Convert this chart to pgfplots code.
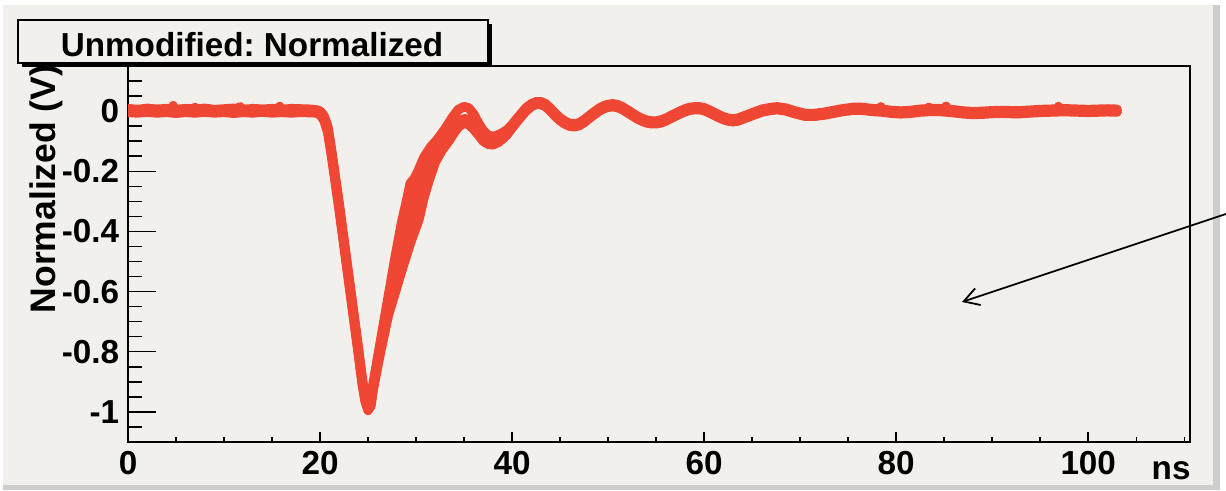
\documentclass[border=0pt]{standalone}
\usepackage{fontspec}
\setmainfont{Liberation Sans}
\usepackage{pgfplots}
\pgfplotsset{compat=1.18}
\usetikzlibrary{arrows.meta}
\frenchspacing

\definecolor{bgcol}{RGB}{242,240,236}
\definecolor{edgecol}{RGB}{205,205,203}
\definecolor{trace}{RGB}{240,70,52}

\newcommand{\lbl}{\fontsize{13.3}{16}\selectfont\bfseries}

\pgfplotsset{
  frame/.style={
    scale only axis,
    width=424.8pt, height=150.4pt,
    at={(51.2pt,19.6pt)}, anchor=south west,
    xmin=0, xmax=110.6, ymin=-1.1, ymax=0.15,
    axis line style={black, line width=0.6pt},
    every tick/.style={black, line width=0.6pt},
    tick align=inside,
    tick label style={font=\lbl},
    /pgf/number format/assume math mode=true,
  },
  wave/.style={trace, line width=3.8pt, line join=round, line cap=round},
}

\begin{document}
\begin{tikzpicture}[x=0.4pt, y=0.4pt]
% canvas
\fill[white] (0,0) rectangle (1226,491);
\fill[edgecol] (3,1) rectangle (1220,486);
\fill[bgcol] (3,6) rectangle (1213,486);

% y ticks and the waveforms
\begin{axis}[frame,
  axis background/.style={fill=bgcol},
  xtick=\empty,
  ytick={-1,-0.8,-0.6,-0.4,-0.2,0},
  minor ytick={-1.05,-0.95,-0.9,-0.85,-0.75,-0.7,-0.65,-0.55,-0.5,-0.45,-0.35,-0.3,-0.25,-0.15,-0.1,-0.05,0.05,0.1},
  ytick pos=left,
  major tick length=11.2pt, minor tick length=5.6pt,
  clip=true,
]
% trace A: early rise, upper first peak
\addplot[wave] coordinates {
(0,0.008) (1,0.005) (2,0.009) (3,0.006) (4,0.008) (5,0.005) (6,0.008) (7,0.006)
(8,0.009) (9,0.005) (10,0.007) (11,0.009) (12,0.005) (13,0.008) (14,0.006)
(15,0.008) (16,0.005) (17,0.008) (18,0.007) (19,0.006) (19.6,0.004)
(20.0,0.0) (20.4,-0.015) (20.8,-0.05) (21.2,-0.13) (21.6,-0.22) (22.0,-0.31)
(22.5,-0.43) (23.0,-0.55) (23.5,-0.67) (24.0,-0.79) (24.4,-0.89) (24.7,-0.95)
(25.0,-0.985) (25.2,-0.98) (25.4,-0.93) (26.0,-0.82) (26.6,-0.71) (27.2,-0.6)
(27.8,-0.49) (28.5,-0.37) (29.0,-0.3) (29.4,-0.24) (29.8,-0.225) (30.2,-0.2)
(30.8,-0.155) (31.5,-0.12) (32.2,-0.095) (33.0,-0.06) (33.8,-0.02) (34.4,0.005)
(35.0,0.015) (35.5,0.01) (36.0,-0.01) (36.5,-0.04) (37.0,-0.065) (37.5,-0.08)
(38.0,-0.085) (38.5,-0.08) (39.0,-0.072) (39.5,-0.062) (40,-0.045) (40.5,-0.025)
(41,-0.006) (41.5,0.012) (42,0.024) (42.5,0.031) (43,0.031) (43.5,0.024)
(44,0.009) (44.5,-0.008) (45,-0.023) (45.5,-0.034) (46,-0.041) (46.5,-0.043)
(47,-0.039) (47.5,-0.029) (48,-0.016) (48.5,-0.004) (49,0.008) (49.5,0.017)
(50,0.022) (50.5,0.024) (51,0.021) (51.5,0.014) (52,0.004) (52.5,-0.006)
(53,-0.016) (53.5,-0.024) (54,-0.03) (54.5,-0.033) (55,-0.033) (55.5,-0.03)
(56,-0.024) (56.5,-0.016) (57,-0.008) (57.5,0.0) (58,0.007) (58.5,0.012)
(59,0.014) (59.5,0.014) (60,0.011) (60.5,0.004) (61,-0.004) (61.5,-0.012)
(62,-0.019) (62.5,-0.024) (63,-0.026) (63.5,-0.024) (64,-0.018) (65,-0.006)
(66,0.006) (67,0.012) (67.6,0.014) (68.5,0.01) (69.5,0.0) (70.5,-0.008)
(71.5,-0.008) (72.5,-0.004) (73.5,0.002) (74.5,0.008) (75.5,0.012) (76.5,0.012)
(77.5,0.008) (78.5,0.006) (79.5,0.002) (80.5,0.0) (81.5,0.002) (82.5,0.006)
(83.5,0.008) (84.5,0.008) (86,0.004) (87,0.0) (88,-0.002) (89,-0.001) (90,0.001)
(91,0.002) (92,0.001) (93,0.001) (94,0.003) (95,0.005) (96,0.006) (97,0.007)
(98,0.007) (99,0.006) (100,0.005) (101,0.006) (102,0.007) (103,0.006)
};
% trace B: middle
\addplot[wave] coordinates {
(0,0.003) (1,0.0) (2,0.004) (3,0.001) (4,0.003) (4.6,0.002) (4.7,0.018) (4.8,0.003)
(5.5,0.0) (6.5,0.003) (7,0.012) (7.2,0.002) (8,0.0) (9,0.004) (10,0.001) (11,0.003)
(11.7,0.014) (11.9,0.002) (12.5,0.0) (13.5,0.003) (14.5,0.001) (15.5,0.004)
(15.8,0.015) (16,0.002) (17,0.0) (18,0.003) (19,0.001) (19.6,0.0)
(20.0,-0.005) (20.4,-0.02) (20.8,-0.06) (21.2,-0.14) (21.6,-0.23) (22.0,-0.32)
(22.5,-0.44) (23.0,-0.56) (23.5,-0.68) (24.0,-0.8) (24.4,-0.9) (24.7,-0.96)
(25.0,-0.99) (25.3,-0.97) (25.6,-0.91) (26.0,-0.83) (26.5,-0.74) (27.0,-0.66)
(27.5,-0.59) (28.0,-0.52) (28.5,-0.45) (29.0,-0.4) (29.3,-0.37) (30.0,-0.28)
(30.4,-0.23) (31.0,-0.18) (31.8,-0.14) (32.8,-0.1) (33.5,-0.07) (34.2,-0.04)
(35,-0.025) (35.5,-0.03) (36,-0.045) (36.5,-0.065) (37,-0.085) (37.5,-0.095)
(38,-0.1) (38.5,-0.095) (39,-0.085) (39.5,-0.07) (40,-0.05) (40.5,-0.03)
(41,-0.01) (41.5,0.008) (42,0.02) (42.5,0.027) (43,0.027) (43.5,0.02) (44,0.005)
(44.5,-0.012) (45,-0.027) (45.5,-0.038) (46,-0.045) (46.5,-0.047) (47,-0.043)
(47.5,-0.033) (48,-0.02) (48.5,-0.008) (49,0.004) (49.5,0.013) (50,0.018)
(50.5,0.02) (51,0.017) (51.5,0.01) (52,0.0) (52.5,-0.01) (53,-0.02) (53.5,-0.028)
(54,-0.034) (54.5,-0.037) (55,-0.037) (55.5,-0.034) (56,-0.028) (56.5,-0.02)
(57,-0.012) (57.5,-0.004) (58,0.003) (58.5,0.008) (59,0.01) (59.5,0.01)
(60,0.007) (60.5,0.0) (61,-0.008) (61.5,-0.016) (62,-0.023) (62.5,-0.028)
(63,-0.03) (63.5,-0.028) (64,-0.022) (65,-0.01) (66,0.002) (67,0.008) (67.6,0.01)
(68.5,0.006) (69.5,-0.004) (70.5,-0.012) (71.5,-0.012) (72.5,-0.008)
(73.5,-0.002) (74.5,0.004) (75.5,0.008) (76.5,0.008) (77.5,0.004) (78.3,0.002)
(78.4,0.014) (78.5,0.002) (79.5,-0.002) (80.5,-0.004) (81.5,-0.002) (82.5,0.002)
(83.3,0.004) (83.4,0.012) (83.5,0.004) (84.5,0.004) (85.1,0.004) (85.2,0.016)
(85.3,0.003) (86,0.0) (87,-0.004) (88,-0.006) (89,-0.005) (90,-0.003)
(91,-0.002) (92,-0.003) (93,-0.003) (94,-0.001) (95,0.001) (96,0.002)
(96.8,0.003) (96.9,0.015) (97,0.003) (98,0.003) (99,0.002) (100,0.001)
(101,0.002) (102,0.003) (103,0.002)
};
% trace C: late rise, lower first peak
\addplot[wave] coordinates {
(0,-0.004) (1,-0.006) (2,-0.003) (3,-0.006) (4,-0.004) (5,-0.007) (6,-0.004)
(7,-0.006) (8,-0.003) (9,-0.006) (10,-0.004) (11,-0.007) (12,-0.004) (13,-0.006)
(14,-0.003) (15,-0.006) (16,-0.004) (17,-0.006) (18,-0.004) (19,-0.005)
(19.6,-0.006) (20.0,-0.012) (20.4,-0.03) (20.8,-0.07) (21.2,-0.15) (21.6,-0.24)
(22.0,-0.33) (22.5,-0.45) (23.0,-0.57) (23.5,-0.69) (24.0,-0.81) (24.4,-0.91)
(24.7,-0.965) (25.0,-0.995) (25.3,-0.98) (25.5,-0.93) (26.3,-0.8) (27.1,-0.68)
(27.9,-0.595) (28.7,-0.51) (29.5,-0.43) (30.3,-0.36) (30.8,-0.29) (31.35,-0.23)
(32,-0.17) (32.7,-0.13) (33.4,-0.1) (34,-0.07) (34.5,-0.05) (35,-0.04)
(35.5,-0.045) (36,-0.06) (36.5,-0.08) (37,-0.1) (37.5,-0.11) (38,-0.112)
(38.5,-0.105) (39,-0.093) (39.5,-0.077) (40,-0.056) (40.5,-0.036) (41,-0.016)
(41.5,0.002) (42,0.015) (42.5,0.022) (43,0.022) (43.5,0.015) (44,0.0)
(44.5,-0.017) (45,-0.032) (45.5,-0.043) (46,-0.05) (46.5,-0.052) (47,-0.048)
(47.5,-0.038) (48,-0.025) (48.5,-0.013) (49,-0.001) (49.5,0.008) (50,0.013)
(50.5,0.015) (51,0.012) (51.5,0.005) (52,-0.005) (52.5,-0.015) (53,-0.025)
(53.5,-0.033) (54,-0.039) (54.5,-0.042) (55,-0.042) (55.5,-0.039) (56,-0.033)
(56.5,-0.025) (57,-0.017) (57.5,-0.009) (58,-0.002) (58.5,0.003) (59,0.005)
(59.5,0.005) (60,0.002) (60.5,-0.005) (61,-0.013) (61.5,-0.021) (62,-0.028)
(62.5,-0.033) (63,-0.035) (63.5,-0.033) (64,-0.027) (65,-0.015) (66,-0.003)
(67,0.003) (67.6,0.005) (68.5,0.001) (69.5,-0.009) (70.5,-0.017) (71.5,-0.017)
(72.5,-0.013) (73.5,-0.007) (74.5,-0.001) (75.5,0.003) (76.5,0.003)
(77.5,-0.001) (78.5,-0.003) (79.5,-0.007) (80.5,-0.009) (81.5,-0.007)
(82.5,-0.003) (83.5,-0.001) (84.5,-0.001) (86,-0.005) (87,-0.009) (88,-0.011)
(89,-0.01) (90,-0.008) (91,-0.007) (92,-0.008) (93,-0.008) (94,-0.006)
(95,-0.004) (96,-0.003) (97,-0.002) (98,-0.002) (99,-0.003) (100,-0.004)
(101,-0.003) (102,-0.002) (103,-0.003)
};
\end{axis}

% x ticks (shorter than the y ticks)
\begin{axis}[frame,
  hide y axis,
  ytick=\empty,
  xtick={0,20,40,60,80,100},
  minor xtick={5,10,15,25,30,35,45,50,55,65,70,75,85,90,95,105,110},
  xtick pos=bottom,
  major tick length=4pt, minor tick length=2pt,
]
\end{axis}

% title box with shadow
\fill[black] (22,424) rectangle (492,467);
\filldraw[fill=bgcol, draw=black, line width=0.5pt] (18,428) rectangle (488,471);
\node at (252,446) {\lbl Unmodified: Normalized};

% axis titles
\node[rotate=90] at (46,302) {\fontsize{14.2}{17}\selectfont\bfseries Normalized (V)};
\node[anchor=base east, inner sep=0pt] at (1191,11) {\lbl ns};

% arrow
\draw[black, line width=0.7pt, -{Straight Barb[length=6pt, width=7pt]}]
  (1226,277) -- (962,189);

\pgfresetboundingbox
\path[use as bounding box] (0,0) rectangle (1226,491);
\end{tikzpicture}
\end{document}
